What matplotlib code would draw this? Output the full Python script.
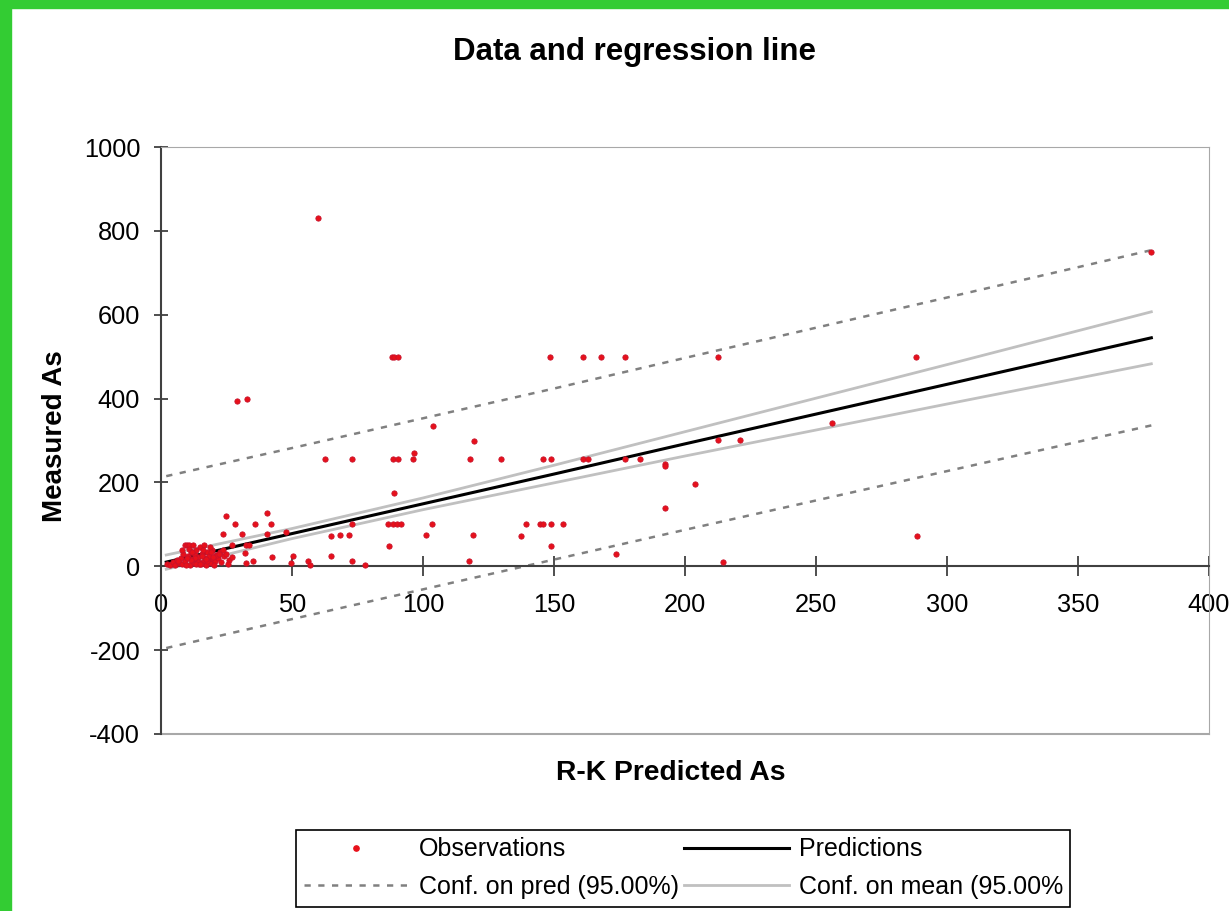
import matplotlib.pyplot as plt
from matplotlib.patches import Rectangle
from matplotlib.lines import Line2D

plt.rcParams['font.family'] = ['Liberation Sans', 'DejaVu Sans']
plt.rcParams['axes.unicode_minus'] = False

# observations (R-K predicted, measured)
obs_x = [60, 378, 29, 33,
         88, 89, 90.5, 148.5, 161, 168, 177, 212.5, 288,
         104, 119.5, 212.5, 221, 256,
         62.6, 72.8, 88.7, 90.3, 96.1, 96.6, 118, 129.7, 145.9, 148.9,
         161.2, 163.1, 177.2, 182.8, 192.4, 192.4,
         88.9, 203.8, 192.4,
         72.8, 86.8, 88.5, 90, 91.5, 103.6, 139.3, 144.7, 145.8, 148.9, 153.6,
         64.8, 68.3, 71.8, 101, 119, 137.3, 288.4,
         86.9, 148.9, 173.5, 64.8, 50.5, 56.2, 56.9, 72.8, 77.9, 117.6,
         49.6, 214.4,
         24.8, 40.6, 28.4, 35.9, 41.9, 23.5, 30.9, 40.6, 47.6, 27, 32.3,
         33.7, 32.1, 42.5, 32.3, 35,
         # dense cluster near the origin
         2.2, 3.5, 4.5, 5.2, 6, 6.8, 7.5, 8, 8.5, 9,
         9.3, 9.8, 10.2, 10.5, 11, 11.4, 11.8, 12.2, 12.5, 13,
         13.4, 13.8, 14.2, 14.6, 15, 15.5, 16, 16.4, 16.8, 17.2,
         17.6, 18, 18.5, 19, 19.5, 20, 20.5, 21, 21.8, 22.5,
         23, 24, 25, 26, 8.2, 9.5, 10.8, 12.8, 14, 15.2,
         16.2, 17.5, 18.8, 20.2, 21.5, 11.5, 13.2, 15.8, 19.2, 22.2,
         6.5, 10, 12, 14.8, 17, 19.8, 23.5, 25.5, 27]
obs_y = [830, 750, 395, 400,
         500, 500, 500, 500, 500, 500, 500, 500, 500,
         335, 300, 302, 302, 342,
         255, 255, 255, 255, 255, 270, 255, 255, 255, 255,
         255, 255, 255, 255, 245, 240,
         176, 197, 138,
         100, 100, 100, 100, 100, 100, 100, 100, 100, 100, 100,
         72, 74, 74, 74, 74, 72, 72,
         49, 49, 30, 25, 25, 12, 2, 12, 2, 12,
         9, 11,
         119, 126, 100, 100, 100, 76, 76, 76, 82, 50, 50,
         50, 32, 22, 9, 13,
         6, 4, 10, 2, 15, 8, 20, 5, 30, 50,
         12, 50, 25, 50, 3, 35, 18, 50, 8, 28,
         40, 14, 22, 6, 45, 30, 10, 50, 20, 4,
         33, 15, 25, 8, 40, 18, 12, 28, 20, 35,
         10, 25, 30, 15, 38, 2, 42, 20, 10, 5,
         38, 12, 45, 3, 28, 14, 6, 25, 35, 30,
         12, 20, 33, 5, 18, 22, 40, 6, 22]

# regression line and confidence bands
line_x = [2, 50, 100, 150, 200, 250, 300, 378]
pred_y = [10, 78, 149, 220, 292, 363, 434, 545]
mean_up = [27, 90, 163, 241, 321, 401, 481, 607]
mean_lo = [-7, 66, 135, 199, 263, 325, 387, 483]
pred_up = [215, 282, 353, 424, 497, 569, 641, 754]
pred_lo = [-195, -126, -55, 16, 87, 157, 227, 336]

fig = plt.figure(figsize=(12.29, 9.11), dpi=100)
ax = fig.add_axes([0.131, 0.1943, 0.8527, 0.6443])

ax.plot(line_x, pred_up, color='#808080', lw=1.8, ls=(0, (2.5, 3)))
ax.plot(line_x, pred_lo, color='#808080', lw=1.8, ls=(0, (2.5, 3)))
ax.plot(line_x, mean_up, color='#c0c0c0', lw=2)
ax.plot(line_x, mean_lo, color='#c0c0c0', lw=2)
ax.plot(line_x, pred_y, color='black', lw=2.2)
ax.plot(obs_x, obs_y, 'o', color='#e8101a', ms=3.8, mec='#c8102a', mew=0.6,
        ls='none', zorder=5)

ax.set_xlim(0, 400)
ax.set_ylim(-400, 1000)
ax.set_xticks(range(0, 401, 50))
ax.set_yticks(range(-400, 1001, 200))

ax.spines['bottom'].set_position(('data', 0))
ax.spines['bottom'].set_color('#404040')
ax.spines['left'].set_color('#404040')
for s in ['top', 'right']:
    ax.spines[s].set_color('#a8a8a8')
ax.axhline(-400, color='#a8a8a8', lw=1.5, clip_on=False)
ax.spines['left'].set_linewidth(1.5)
ax.spines['bottom'].set_linewidth(1.5)
ax.tick_params(direction='inout', length=14, width=1.3, color='#404040',
               labelsize=18.3)
ax.tick_params(axis='x', pad=12)
ax.tick_params(axis='y', length=10, pad=10)

fig.text(0.516, 0.943, 'Data and regression line', ha='center', va='center',
         fontsize=22.5, fontweight='bold')
fig.text(0.0447, 0.5214, 'Measured As', ha='center', va='center', rotation=90,
         fontsize=20, fontweight='bold')
fig.text(0.546, 0.1515, 'R-K Predicted As', ha='center', va='center',
         fontsize=20.3, fontweight='bold')

handles = [
    Line2D([], [], marker='o', color='#e8101a', ms=3.8, ls='none'),
    Line2D([], [], color='#808080', lw=1.8, ls=(0, (2.5, 3))),
    Line2D([], [], color='black', lw=2.2),
    Line2D([], [], color='#c0c0c0', lw=2),
]
labels = ['Observations', 'Conf. on pred (95.00%)', 'Predictions',
          'Conf. on mean (95.00%']
leg = fig.legend(handles, labels, ncol=2, loc='center',
                 bbox_to_anchor=(0.556, 0.047), fontsize=18, fancybox=False,
                 edgecolor='black', framealpha=1, handlelength=4.2,
                 handletextpad=0.4, columnspacing=0.2, borderpad=0.3,
                 labelspacing=0.55, numpoints=1, borderaxespad=0)
leg.get_frame().set_linewidth(1.2)

# green border of the screenshot
fig.patches.append(Rectangle((0, 0), 0.009, 1, transform=fig.transFigure,
                             color='#33cc33', zorder=0))
fig.patches.append(Rectangle((0, 0.991), 1, 0.009, transform=fig.transFigure,
                             color='#33cc33', zorder=0))

fig.savefig('out.png', dpi=100)
